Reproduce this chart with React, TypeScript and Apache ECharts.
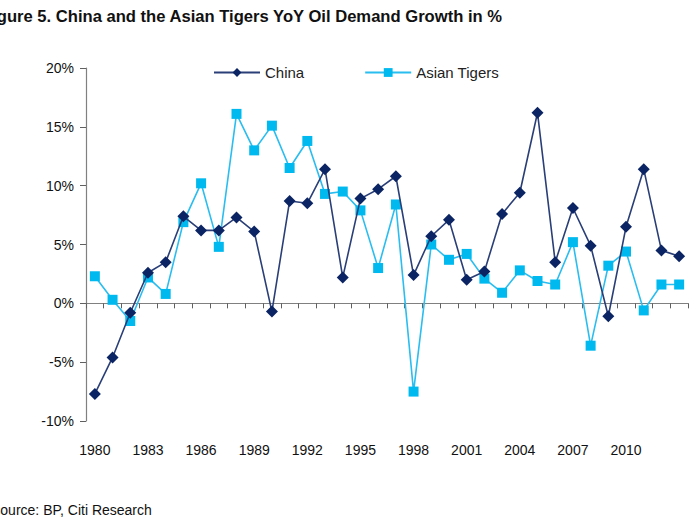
import React, { useEffect, useRef } from "react";
import * as echarts from "echarts";

const years = [
  "1980","1981","1982","1983","1984","1985","1986","1987","1988","1989",
  "1990","1991","1992","1993","1994","1995","1996","1997","1998","1999",
  "2000","2001","2002","2003","2004","2005","2006","2007","2008","2009",
  "2010","2011","2012","2013",
];
const china = [
  -7.7, -4.6, -0.8, 2.6, 3.5, 7.4, 6.2, 6.2, 7.3, 6.1,
  -0.7, 8.7, 8.5, 11.4, 2.2, 8.9, 9.7, 10.8, 2.4, 5.7,
  7.1, 2.0, 2.7, 7.6, 9.4, 16.2, 3.5, 8.1, 4.9, -1.1,
  6.5, 11.4, 4.5, 4.0,
];
const asianTigers = [
  2.3, 0.3, -1.5, 2.2, 0.8, 6.9, 10.2, 4.8, 16.1, 13.0,
  15.1, 11.5, 13.8, 9.3, 9.5, 7.9, 3.0, 8.4, -7.5, 5.0,
  3.7, 4.2, 2.1, 0.9, 2.8, 1.9, 1.6, 5.2, -3.6, 3.2,
  4.4, -0.6, 1.6, 1.6,
];
const titleText = "Figure 5. China and the Asian Tigers YoY Oil Demand Growth in %";
const sourceText = "Source: BP, Citi Research";

const FONT = "'Liberation Sans Narrow', 'Arial Narrow', 'Liberation Sans', Arial, sans-serif";

export default function App() {
  const ref = useRef<HTMLDivElement>(null);
  useEffect(() => {
    if (!ref.current) return;
    const chart = echarts.init(ref.current, undefined, { renderer: "svg" });
    chart.setOption({
      animation: false,
      backgroundColor: "#ffffff",
      textStyle: { fontFamily: FONT },
      graphic: [
        {
          type: "text",
          left: -18,
          top: 8,
          style: {
            text: titleText,
            font: `bold 16.6px ${FONT}`,
            fill: "#111111",
          },
        },
        {
          type: "text",
          left: -9,
          top: 503,
          style: {
            text: sourceText,
            font: `14px ${FONT}`,
            fill: "#111111",
          },
        },
      ],
      legend: {
        top: 60,
        left: 208,
        itemWidth: 46,
        itemHeight: 11,
        itemGap: 60,
        textStyle: { fontSize: 15, color: "#222222", fontFamily: FONT },
        data: ["China", "Asian Tigers"],
      },
      grid: { left: 86, right: 12, top: 68, bottom: 104 },
      xAxis: [
        {
          type: "category",
          data: years,
          boundaryGap: true,
          axisLine: { onZero: true, lineStyle: { color: "#808080", width: 1.2 } },
          axisTick: { show: true, interval: 0, length: 5, lineStyle: { color: "#606060" } },
          axisLabel: { show: false },
        },
        {
          type: "category",
          data: years,
          position: "bottom",
          boundaryGap: true,
          axisLine: { show: false },
          axisTick: { show: false },
          axisLabel: {
            interval: (i: number) => i % 3 === 0 && i < 33,
            margin: 22,
            fontSize: 14,
            color: "#111111",
            fontFamily: FONT,
          },
        },
      ],
      yAxis: {
        type: "value",
        min: -10,
        max: 20,
        interval: 5,
        axisLine: { show: true, lineStyle: { color: "#808080", width: 1.2 } },
        axisTick: { show: true, length: 6, lineStyle: { color: "#606060" } },
        splitLine: { show: false },
        axisLabel: {
          formatter: "{value}%",
          margin: 12,
          fontSize: 14,
          color: "#111111",
          fontFamily: FONT,
        },
      },
      series: [
        {
          name: "China",
          type: "line",
          xAxisIndex: 0,
          data: china,
          symbol: "diamond",
          symbolSize: 12,
          showSymbol: true,
          showAllSymbol: true,
          itemStyle: { color: "#0b2463" },
          lineStyle: { color: "#2a3f78", width: 1.6 },
          z: 3,
        },
        {
          name: "Asian Tigers",
          type: "line",
          xAxisIndex: 0,
          data: asianTigers,
          symbol: "rect",
          symbolSize: 10,
          showSymbol: true,
          showAllSymbol: true,
          itemStyle: { color: "#00b9ef" },
          lineStyle: { color: "#29bdf0", width: 1.6 },
          z: 2,
        },
      ],
    });
    return () => chart.dispose();
  }, []);
  return (
    <div
      ref={ref}
      style={{ position: "fixed", left: 0, top: 0, width: 700, height: 525 }}
    />
  );
}
